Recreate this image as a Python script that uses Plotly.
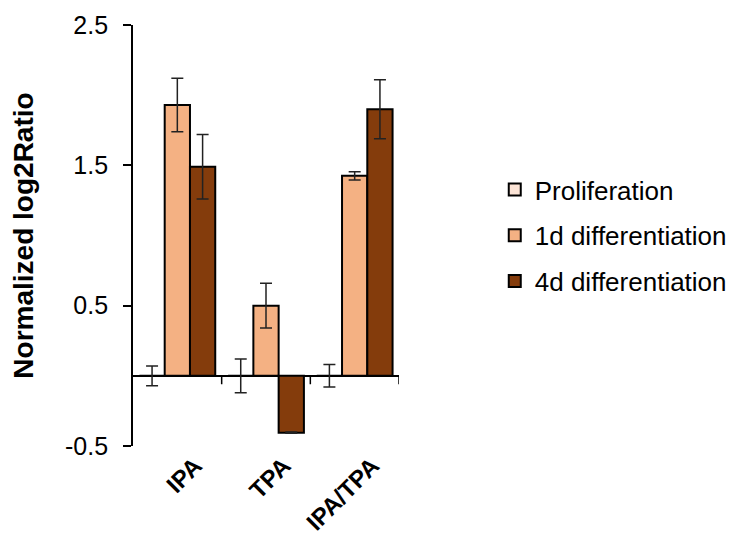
import plotly.graph_objects as go

categories = ["IPA", "TPA", "IPA/TPA"]
series_names = ["Proliferation", "1d differentiation", "4d differentiation"]
proliferation = [0.0, 0.0, 0.0]
proliferation_err = [0.07, 0.12, 0.08]
diff_1d = [1.93, 0.50, 1.425]
diff_1d_err = [0.19, 0.16, 0.03]
diff_4d = [1.49, -0.405, 1.90]
diff_4d_err = [0.23, 0.005, 0.21]
y_ticks = [-0.5, 0.5, 1.5, 2.5]

colors = ["#FCE4D6", "#F4B183", "#843C0C"]
FONT = "Arial, Liberation Sans, sans-serif"

x_idx = list(range(len(categories)))
fig = go.Figure()
for name, vals, errs, col in zip(series_names,
                                 [proliferation, diff_1d, diff_4d],
                                 [proliferation_err, diff_1d_err, diff_4d_err],
                                 colors):
    fig.add_trace(go.Bar(
        x=x_idx, y=vals, name=name, legendgroup=name,
        marker=dict(color=col, line=dict(color="black", width=2)),
        error_y=dict(type="data", array=errs, visible=True,
                     color="#222222", thickness=1.5, width=6),
    ))

# small tick marks at category boundaries below the zero line
shapes = []
for b in [0.5, 1.5, 2.5]:
    shapes.append(dict(type="line", xref="x", yref="y", x0=b, x1=b,
                       y0=0, y1=-0.06, line=dict(color="black", width=1.5)))

# page has an 8px body margin, so the figure is sized to fit the window
fig.update_layout(
    width=736, height=529,
    margin=dict(l=125, r=342, t=17, b=91),
    paper_bgcolor="white", plot_bgcolor="white",
    barmode="group", bargap=0.145, bargroupgap=0,
    font=dict(family=FONT, size=25, color="black"),
    showlegend=True,
    legend=dict(x=1.36, xanchor="left", y=0.5, yanchor="middle",
                font=dict(size=26, family=FONT), tracegroupgap=9,
                bgcolor="rgba(0,0,0,0)"),
    shapes=shapes,
    xaxis=dict(range=[-0.5, 2.5], showgrid=False, zeroline=False,
               showline=False, ticks="", automargin=False,
               tickmode="array", tickvals=[i + 0.2 for i in x_idx],
               ticktext=categories, tickangle=-45,
               tickfont=dict(size=24, family=FONT, weight="bold")),
    yaxis=dict(range=[-0.5, 2.5], tickmode="array", tickvals=y_ticks,
               ticktext=[str(v) for v in y_ticks], automargin=False,
               showgrid=False, zeroline=True, zerolinecolor="black",
               zerolinewidth=1.8, showline=True, linecolor="black",
               linewidth=1.8, ticks="outside", ticklen=8, tickwidth=1.5,
               tickcolor="black", ticklabelstandoff=10,
               tickfont=dict(size=25, family=FONT),
               title=dict(text="Normalized log2Ratio", standoff=25,
                          font=dict(size=28, family=FONT, weight="bold"))),
)

fig.write_html("out.html")
